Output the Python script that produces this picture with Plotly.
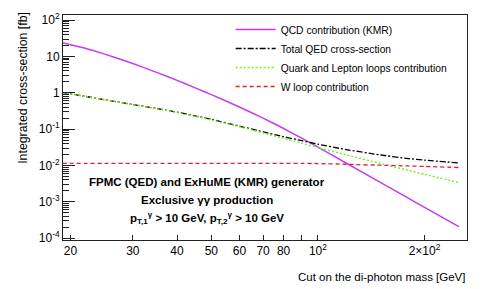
import plotly.graph_objects as go

# ---- data ----
mass = [19, 20, 22, 25, 30, 35, 40, 45, 50, 60, 70, 80, 90, 100, 120, 150, 180, 200, 250]
qcd_kmr = [23.5, 21.1, 16.8, 11.6, 6.36, 3.65, 2.20, 1.37, 0.89, 0.407, 0.200, 0.104, 0.0564,
           0.0319, 0.0117, 0.00343, 0.00126, 0.000706, 0.000207]
total_qed = [1.02, 0.94, 0.80, 0.645, 0.475, 0.372, 0.292, 0.232, 0.186, 0.121, 0.084, 0.062,
             0.048, 0.0385, 0.0275, 0.0195, 0.0155, 0.014, 0.0118]
quark_lepton = [1.02, 0.935, 0.80, 0.64, 0.47, 0.365, 0.285, 0.225, 0.179, 0.117, 0.0784,
                0.0554, 0.0408, 0.031, 0.0197, 0.0114, 0.00737, 0.00573, 0.00335]
w_loop = [0.0115, 0.0115, 0.0115, 0.0115, 0.0115, 0.0115, 0.0115, 0.0115, 0.0115, 0.0115,
          0.0115, 0.0115, 0.0114, 0.0113, 0.0108, 0.0102, 0.0097, 0.0094, 0.0088]

series_names = ["QCD contribution (KMR)", "Total QED cross-section",
                "Quark and Lepton loops contribution", "W loop contribution"]

x_tickvals = [20, 30, 40, 50, 60, 70, 80, 90, 100, 200]
x_ticktext = ["20", "30", "40", "50", "60", "70", "80", "", "10<sup>2</sup>", "2×10<sup>2</sup>"]
y_tickvals = [1e-4, 1e-3, 1e-2, 1e-1, 1, 10, 100]
y_ticktext = ["10<sup>-4</sup>", "10<sup>-3</sup>", "10<sup>-2</sup>", "10<sup>-1</sup>",
              "1", "10", "10<sup>2</sup>"]

FONT = "Liberation Sans, Arial, Helvetica, sans-serif"

fig = go.Figure()
styles = [
    dict(color="#c43cf2", width=1.5, dash="solid", shape="spline", smoothing=0.5),
    dict(color="black", width=1.3, dash="6px,2px,2px,2px", shape="spline", smoothing=0.5),
    dict(color="#77ee22", width=1.4, dash="2px,2px", shape="spline", smoothing=0.5),
    dict(color="#ee1c1c", width=1.3, dash="4px,3px", shape="spline", smoothing=0.5),
]
for name, ys, st in zip(series_names, [qcd_kmr, total_qed, quark_lepton, w_loop], styles):
    fig.add_trace(go.Scatter(x=mass, y=ys, mode="lines", name=name, line=st))

minor_y = [m * 10 ** e for e in range(-5, 3) for m in range(2, 10)]

# the page body adds an 8px offset, so the figure is 8px smaller and margins shifted
fig.update_layout(
    width=476, height=281,
    margin=dict(l=55, r=17, t=7, b=49, autoexpand=False),
    paper_bgcolor="white", plot_bgcolor="white",
    font=dict(family=FONT, size=12, color="black"),
    showlegend=True,
    legend=dict(x=0.415, y=1.0, xanchor="left", yanchor="top",
                font=dict(size=10.3), bgcolor="rgba(0,0,0,0)",
                tracegroupgap=0, itemwidth=40),
    xaxis=dict(type="log", range=[1.280, 2.421], tickvals=x_tickvals, ticktext=x_ticktext,
               ticks="inside", ticklen=5, tickcolor="#222", showgrid=False, zeroline=False,
               showline=True, mirror=True, linecolor="#222", linewidth=1,
               tickfont=dict(size=12)),
    yaxis=dict(type="log", range=[-4.05, 2.14], tickvals=y_tickvals, ticktext=y_ticktext,
               ticks="inside", ticklen=12, tickcolor="#222", showgrid=False, zeroline=False,
               showline=True, mirror=True, linecolor="#222", linewidth=1,
               tickfont=dict(size=12),
               minor=dict(ticks="inside", ticklen=6, tickcolor="#222", tickvals=minor_y,
                          showgrid=False)),
)

# axis titles (ROOT style, right/top aligned)
fig.add_annotation(text="Integrated cross-section [fb]", textangle=-90,
                   xref="paper", yref="paper", x=-0.101, y=1.024,
                   xanchor="center", yanchor="top", showarrow=False,
                   font=dict(size=12.3))
fig.add_annotation(text="Cut on the di-photon mass [GeV]",
                   xref="paper", yref="paper", x=1.0, y=-0.165,
                   xanchor="right", yanchor="middle", showarrow=False,
                   font=dict(size=11.5))

# text block
info_lines = ["<b>FPMC (QED) and ExHuME (KMR) generator</b>",
              "<b>Exclusive γγ production</b>",
              "<b>p<sub>T,1</sub><sup>γ</sup> > 10 GeV, p<sub>T,2</sub><sup>γ</sup> > 10 GeV</b>"]
for txt, yy in zip(info_lines, [0.258, 0.178, 0.098]):
    fig.add_annotation(text=txt, xref="paper", yref="paper", x=0.356, y=yy,
                       xanchor="center", yanchor="middle", showarrow=False,
                       font=dict(size=11.5))

fig.write_html("out.html")
